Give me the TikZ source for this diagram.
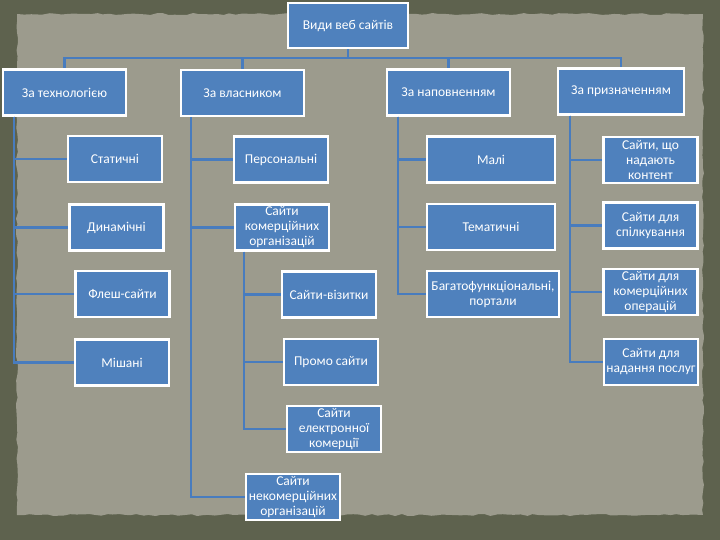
\documentclass[tikz,border=0pt]{standalone}
\usepackage{fontspec}
\setmainfont{Carlito}
\usepackage{xcolor}
\usepackage{tikz}
\usetikzlibrary{calc,decorations.pathmorphing}

\definecolor{boxblue}{RGB}{79,129,189}
\definecolor{linkblue}{RGB}{72,124,190}
\definecolor{panelgrey}{RGB}{156,155,141}
\definecolor{outerolive}{RGB}{94,98,78}

\begin{document}
\pgfmathsetseed{7}
\begin{tikzpicture}[
    x=1pt,y=-1pt,
    box/.style={draw=white,line width=2.5pt,fill=boxblue,text=white,
      align=center,inner sep=0pt,font=\fontsize{13.5}{15}\selectfont},
    rootbox/.style={box,minimum width=120pt,minimum height=45pt},
    groupbox/.style={box,minimum width=123pt,minimum height=46pt},
    leaf/.style={box,minimum width=94pt,minimum height=46pt},
    wideleaf/.style={box,minimum width=128pt,minimum height=46pt},
    link/.style={draw=linkblue,line width=2.2pt}
  ]
    % background and paper panel
    \fill[outerolive] (0,0) rectangle (720,540);
    \fill[panelgrey,decorate,decoration={random steps,segment length=6pt,amplitude=1pt}]
      (17,14) rectangle (703,515);

    \node[rootbox] (root) at (348,25.5) {Види веб сайтів};

    \node[groupbox] (tech) at (64.5,92.5) {За технологією};
    \node[groupbox] (owner) at (242.5,93) {За власником};
    \node[groupbox] (content) at (448.5,92.5) {За наповненням};
    \node[groupbox,minimum width=126pt] (purpose) at (621,91.5) {За призначенням};

    % by technology
    \node[leaf] (static) at (115,159) {Статичні};
    \node[leaf] (dynamic) at (116.5,227.5) {Динамічні};
    \node[leaf] (flash) at (122.5,294) {Флеш-сайти};
    \node[leaf] (mixed) at (122,362.5) {Мішані};

    % by owner
    \node[leaf] (personal) at (281,159.5) {Персональні};
    \node[leaf] (commerce) at (282,227.5) {Сайти\\комерційних\\організацій};
    \node[leaf] (card) at (329,294.5) {Сайти-візитки};
    \node[leaf] (promo) at (331,362) {Промо сайти};
    \node[leaf] (ecom) at (334,429) {Сайти\\електронної\\комерції};
    \node[leaf] (noncom) at (293,497) {Сайти\\некомерційних\\організацій};

    % by content
    \node[wideleaf] (small) at (491,159.5) {Малі};
    \node[wideleaf] (topic) at (491,227) {Тематичні};
    \node[wideleaf,minimum width=132pt] (portal) at (493,294) {Багатофункціональні,\\портали};

    % by purpose
    \node[leaf] (provide) at (650.5,160) {Сайти, що\\надають\\контент};
    \node[leaf] (social) at (650.5,225.5) {Сайти для\\спілкування};
    \node[leaf] (trade) at (650.5,292) {Сайти для\\комерційних\\операцій};
    \node[leaf] (service) at (651,362) {Сайти для\\надання послуг};

    % top bus
    \draw[link] (root.south) -- ++(0,9) -| (tech.north);
    \draw[link] (root.south) -- ++(0,9) -| (owner.north);
    \draw[link] (root.south) -- ++(0,9) -| (content.north);
    \draw[link] (root.south) -- ++(0,9) -| (purpose.north);

    % spines
    \draw[link] ([xshift=12pt]tech.south west) |- (static.west);
    \draw[link] ([xshift=12pt]tech.south west) |- (dynamic.west);
    \draw[link] ([xshift=12pt]tech.south west) |- (flash.west);
    \draw[link] ([xshift=12pt]tech.south west) |- (mixed.west);

    \draw[link] ([xshift=11pt]owner.south west) |- (personal.west);
    \draw[link] ([xshift=11pt]owner.south west) |- (commerce.west);
    \draw[link] ([xshift=11pt]owner.south west) |- (noncom.west);
    \draw[link] ([xshift=10pt]commerce.south west) |- (card.west);
    \draw[link] ([xshift=10pt]commerce.south west) |- (promo.west);
    \draw[link] ([xshift=10pt]commerce.south west) |- (ecom.west);

    \draw[link] ([xshift=12pt]content.south west) |- (small.west);
    \draw[link] ([xshift=12pt]content.south west) |- (topic.west);
    \draw[link] ([xshift=12pt]content.south west) |- (portal.west);

    \draw[link] ([xshift=13pt]purpose.south west) |- (provide.west);
    \draw[link] ([xshift=13pt]purpose.south west) |- (social.west);
    \draw[link] ([xshift=13pt]purpose.south west) |- (trade.west);
    \draw[link] ([xshift=13pt]purpose.south west) |- (service.west);
  \end{tikzpicture}
\end{document}
